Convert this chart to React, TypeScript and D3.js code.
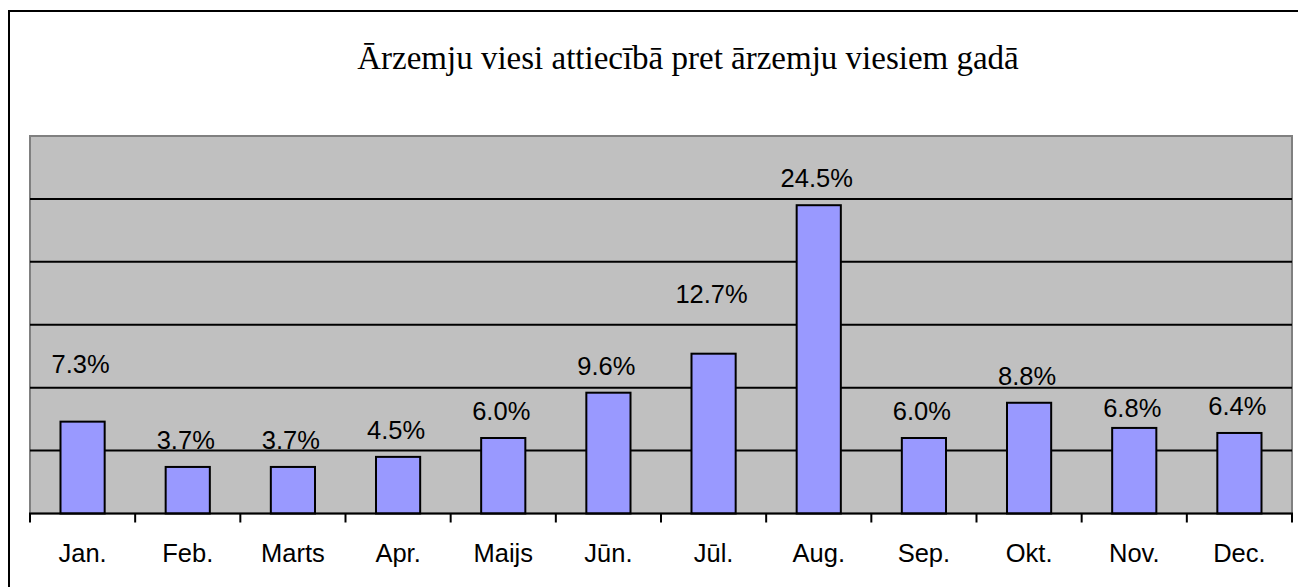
import React, { useEffect, useRef } from 'react'
import * as d3 from 'd3'

const months = ['Jan.', 'Feb.', 'Marts', 'Apr.', 'Maijs', 'Jūn.', 'Jūl.', 'Aug.', 'Sep.', 'Okt.', 'Nov.', 'Dec.']
const shares = [7.3, 3.7, 3.7, 4.5, 6.0, 9.6, 12.7, 24.5, 6.0, 8.8, 6.8, 6.4]
const yTicks = [0, 5, 10, 15, 20, 25, 30]
const title = 'Ārzemju viesi attiecībā pret ārzemju viesiem gadā'

// extra lift for a few labels that Excel placed higher/lower
const labelNudge: Record<string, number> = { 'Jan.': 31, 'Jūl.': 33, 'Nov.': -7 }

const App = () => {
  const ref = useRef<SVGSVGElement>(null)
  const width = 1298
  const height = 587
  const left = 30, right = 1292, top = 136, bottom = 513.5

  useEffect(() => {
    const svg = d3.select(ref.current)
    svg.selectAll('*').remove()

    const x = d3.scaleBand().domain(months).range([left, right]).paddingInner(0.58).paddingOuter(0.29)
    const y = d3.scaleLinear().domain([0, 30]).range([bottom, top])

    // outer frame
    svg.append('rect')
      .attr('x', 9).attr('y', 11)
      .attr('width', 1400).attr('height', 700)
      .attr('fill', 'white').attr('stroke', 'black').attr('stroke-width', 2)

    svg.append('text')
      .attr('x', 688).attr('y', 57)
      .attr('text-anchor', 'middle').attr('dy', '0.35em')
      .attr('font-family', '"Liberation Serif", "Times New Roman", serif')
      .attr('font-size', 33)
      .text(title)

    // plot area
    svg.append('rect')
      .attr('x', left).attr('y', top)
      .attr('width', right - left).attr('height', bottom - top)
      .attr('fill', '#c0c0c0').attr('stroke', '#808080').attr('stroke-width', 2)

    svg.append('g')
      .selectAll('line')
      .data(yTicks.slice(1, -1))
      .join('line')
      .attr('x1', left).attr('x2', right)
      .attr('y1', d => y(d)).attr('y2', d => y(d))
      .attr('stroke', 'black').attr('stroke-width', 2)

    svg.append('g')
      .selectAll('rect')
      .data(shares)
      .join('rect')
      .attr('x', (d, i) => x(months[i])!)
      .attr('width', x.bandwidth())
      .attr('y', d => y(d))
      .attr('height', d => bottom - y(d))
      .attr('fill', '#9999ff').attr('stroke', 'black').attr('stroke-width', 2)

    svg.append('g')
      .attr('font-family', '"Liberation Sans", Arial, sans-serif')
      .attr('font-size', 25.5)
      .selectAll('text')
      .data(shares)
      .join('text')
      .attr('x', (d, i) => x(months[i])! + x.bandwidth() / 2 - 2)
      .attr('y', (d, i) => y(d) - 27 - (labelNudge[months[i]] || 0))
      .attr('dy', '0.35em')
      .attr('text-anchor', 'middle')
      .attr('fill', 'black')
      .text(d => d.toFixed(1) + '%')

    // x axis
    const axis = svg.append('g')
      .attr('transform', `translate(0,${bottom})`)
      .call(d3.axisBottom(x).tickSize(0).tickPadding(0))
    axis.select('.domain').remove()
    axis.selectAll('text')
      .attr('y', 48)
      .attr('font-family', '"Liberation Sans", Arial, sans-serif')
      .attr('font-size', 25.5)
      .attr('fill', 'black')
      .attr('dy', '0')

    svg.append('line')
      .attr('x1', left - 1).attr('x2', right + 1)
      .attr('y1', bottom).attr('y2', bottom)
      .attr('stroke', 'black').attr('stroke-width', 2)

    const step = (right - left) / months.length
    svg.append('g')
      .selectAll('line')
      .data(d3.range(months.length + 1))
      .join('line')
      .attr('x1', i => left + i * step).attr('x2', i => left + i * step)
      .attr('y1', bottom).attr('y2', bottom + 9)
      .attr('stroke', 'black').attr('stroke-width', 2)
  }, [])

  return (
    <svg ref={ref} width={width} height={height}
      style={{ position: 'absolute', left: 0, top: 0, background: 'white' }} />
  )
}

export default App
